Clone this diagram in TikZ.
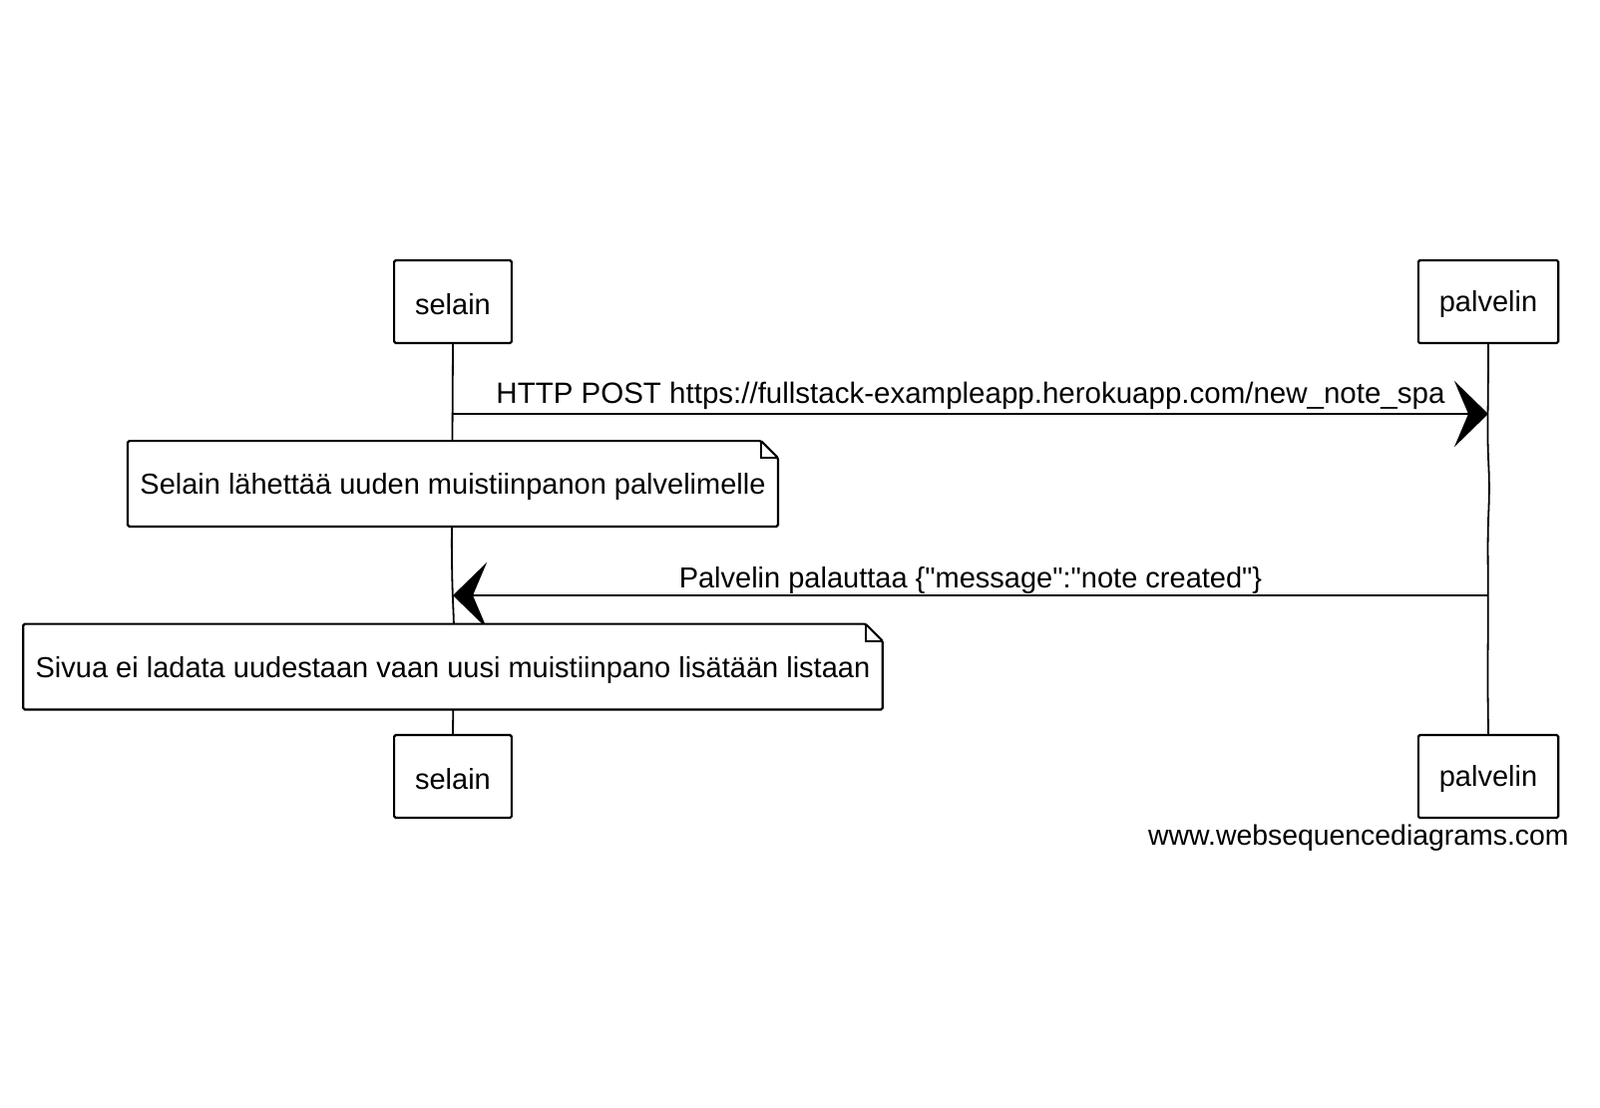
\documentclass[tikz,border=0pt]{standalone}
\usepackage{fontspec}
\setmainfont{Liberation Sans}[Ligatures=TeXOff]
\usetikzlibrary{positioning,arrows.meta,decorations.pathmorphing}
\tikzset{every node/.style={font=\fontsize{14.5}{17}\selectfont},
sketchy/.style={decorate, decoration={random steps, segment length=24pt, amplitude=0.7pt}, rounded corners=8pt},
actor/.style={draw, line width=1.1pt, fill=white, minimum height=41.5pt, inner xsep=10.5pt, text height=13pt, rounded corners=0.8pt},
note/.style={fill=white, minimum height=42.5pt, inner xsep=6pt, text depth=0pt},
noteline/.style={line width=1.1pt, rounded corners=0.8pt},
lifeline/.style={line width=0.9pt, sketchy},
message/.style={line width=1.3pt, -{Stealth[length=17pt, width=33pt, inset=7pt]}}
}

\begin{document}
\begin{tikzpicture}[x=0.5pt, y=-0.5pt, node distance=238pt, on grid]
  \useasboundingbox (0,0) rectangle (1604,1110);

  \node[actor] (selain_top)     at (454,302.5)            {selain};
  \node[actor] (palvelin_top)   [right=519pt of selain_top] {palvelin};
  \node[actor] (selain_bot)     [below=of selain_top]     {selain};
  \node[actor] (palvelin_bot)   [below=of palvelin_top]   {palvelin};

  \draw[lifeline] (selain_top) -- (selain_bot);
  \draw[lifeline] (palvelin_top) -- (palvelin_bot);

  % viesti 1
  \coordinate (post_start) at (selain_top |- 0,415);
  \coordinate (post_end)   at (palvelin_top |- 0,415);
  \draw[message] (post_start) -- node[above, inner sep=1.5pt, font=\fontsize{14.75}{17}\selectfont] {HTTP POST https://fullstack-exampleapp.herokuapp.com/new\_note\_spa} (post_end);

  \node[note] (note_post) [below=91.25pt of selain_top] {Selain lähettää uuden muistiinpanon palvelimelle};
  \draw[noteline] (note_post.north west) -- ([xshift=-8.5pt]note_post.north east) -- ([yshift=-8.5pt]note_post.north east)
                  -- (note_post.south east) -- (note_post.south west) -- cycle;
  \draw[line width=1pt] ([xshift=-8.5pt]note_post.north east) |- ([yshift=-8.5pt]note_post.north east);

  % viesti 2
  \coordinate (reply_start) at (palvelin_top |- 0,597);
  \coordinate (reply_end)   at (selain_top |- 0,597);
  \draw[message] (reply_start) -- node[above, inner sep=0pt] {Palvelin palauttaa \{"message":"note created"\}} (reply_end);

  \node[note] (note_reply) [below=183pt of selain_top] {Sivua ei ladata uudestaan vaan uusi muistiinpano lisätään listaan};
  \draw[noteline] (note_reply.north west) -- ([xshift=-8.5pt]note_reply.north east) -- ([yshift=-8.5pt]note_reply.north east)
                  -- (note_reply.south east) -- (note_reply.south west) -- cycle;
  \draw[line width=1pt] ([xshift=-8.5pt]note_reply.north east) |- ([yshift=-8.5pt]note_reply.north east);

  \node[anchor=east, inner sep=0pt, font=\fontsize{14.2}{17}\selectfont] (watermark) at (1573,840) {www.websequencediagrams.com};
\end{tikzpicture}
\end{document}
